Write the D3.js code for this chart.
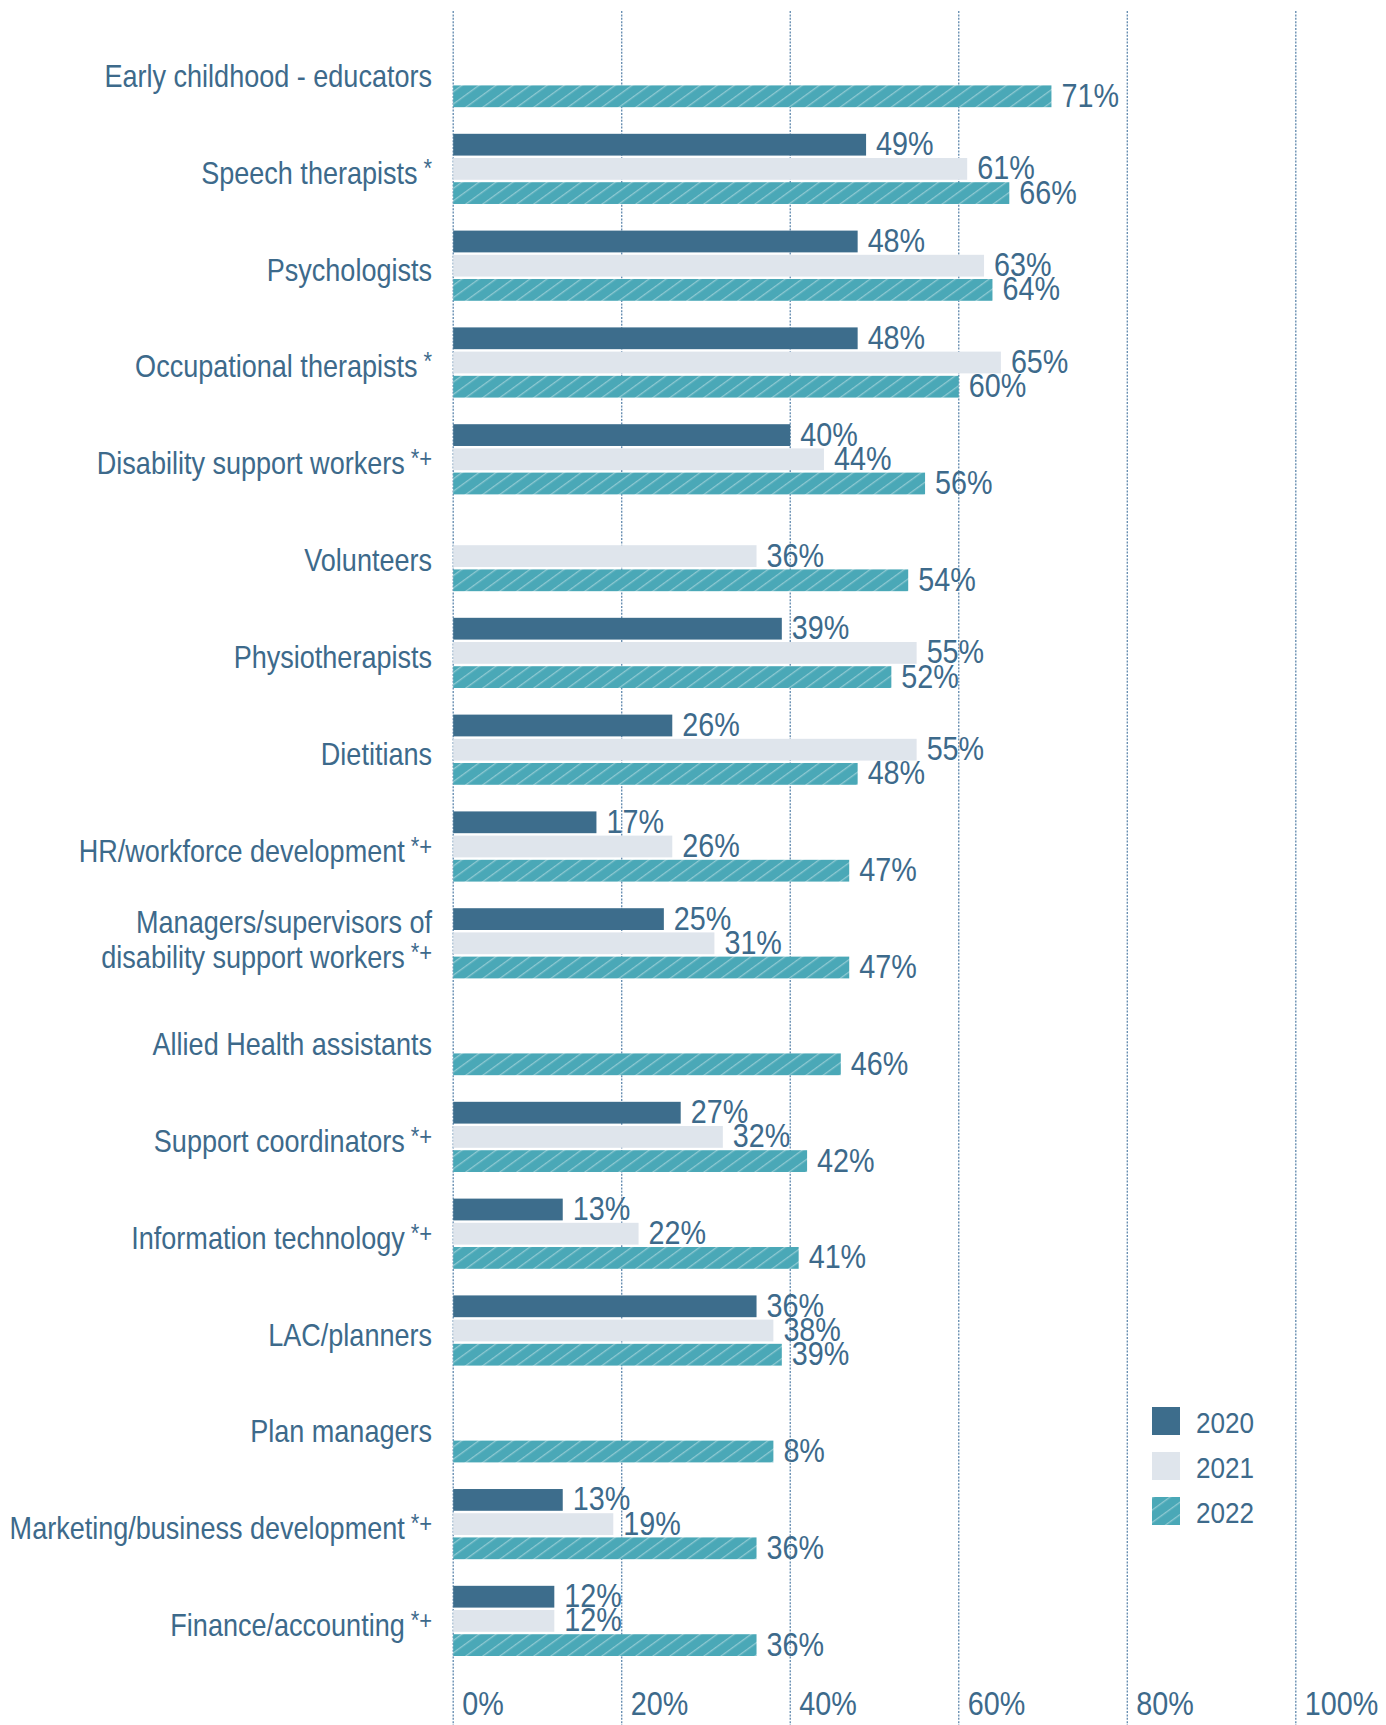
<!DOCTYPE html>
<html>
<head>
<meta charset="utf-8">
<script src="https://cdn.jsdelivr.net/npm/d3@7/dist/d3.min.js"></script>
<style>
  body { margin: 0; background: #fff; }
  text { font-family: "Liberation Sans", Arial, sans-serif; fill: #3d6a8b; }
</style>
</head>
<body>
<div id="chart"></div>
<script>
// roles, top to bottom; "\n" splits a label, mark is the superscript note
const roles = [
  "Early childhood - educators", "Speech therapists", "Psychologists",
  "Occupational therapists", "Disability support workers", "Volunteers",
  "Physiotherapists", "Dietitians", "HR/workforce development",
  "Managers/supervisors of\ndisability support workers", "Allied Health assistants",
  "Support coordinators", "Information technology", "LAC/planners",
  "Plan managers", "Marketing/business development", "Finance/accounting"
];
const marks = ["", "*", "", "*", "*+", "", "", "", "*+", "*+", "", "*+", "*+", "", "", "*+", "*+"];

const years = ["2020", "2021", "2022"];
const v2020 = [null, 49, 48, 48, 40, null, 39, 26, 17, 25, null, 27, 13, 36, null, 13, 12];
const v2021 = [null, 61, 63, 65, 44, 36, 55, 55, 26, 31, null, 32, 22, 38, null, 19, 12];
const v2022 = [71, 66, 64, 60, 56, 54, 52, 48, 47, 47, 46, 42, 41, 39, 38, 36, 36];
// printed label differs from bar length in the source for plan managers
const txt2022 = [null, null, null, null, null, null, null, null, null, null, null, null, null, null, "8%", null, null];

const xTicks = [0, 20, 40, 60, 80, 100];

const W = 1386, H = 1725;
const colors = { "2020": "#3d6d8c", "2021": "#dfe5ec", "2022": "#4aa8b7" };
const squeeze = 0.845; // narrow the sans face to look like the condensed original

let svg = d3.select("#chart").append("svg")
    .attr("width", W)
    .attr("height", H);

let defs = svg.append("defs");
let pat = defs.append("pattern")
    .attr("id", "hatch")
    .attr("patternUnits", "userSpaceOnUse")
    .attr("width", 12)
    .attr("height", 10)
    .attr("patternTransform", "rotate(-36)");
pat.append("rect").attr("width", 12).attr("height", 10).attr("fill", colors["2022"]);
pat.append("rect").attr("x", 0).attr("y", 0).attr("width", 12).attr("height", 1.3)
    .attr("fill", "rgba(255,255,255,0.38)");

let x = d3.scaleLinear().domain([0, 100]).range([453.2, 1295.8]);

let y = d3.scaleBand()
    .domain(d3.range(roles.length))
    .range([37, 37 + 16 * 96.8 + 70.2])
    .paddingInner(0.275);

let yy = d3.scaleBand()
    .domain(years)
    .range([0, y.bandwidth()])
    .paddingInner(0.1);

function narrow(sel, tx, ty) {
  return sel.attr("transform", "translate(" + tx + "," + ty + ") scale(" + squeeze + ",1)");
}

// grid
svg.append("g").selectAll("line").data(xTicks).enter().append("line")
    .attr("x1", d => x(d)).attr("x2", d => x(d))
    .attr("y1", 11).attr("y2", H)
    .attr("stroke", "#5f88ad")
    .attr("stroke-width", 1.3)
    .attr("stroke-dasharray", "2,1.4");

// bars
let rows = roles.map((r, i) => ({
  i: i,
  vals: [
    { year: "2020", v: v2020[i], t: null },
    { year: "2021", v: v2021[i], t: null },
    { year: "2022", v: v2022[i], t: txt2022[i] }
  ].filter(d => d.v !== null)
}));

let groups = svg.append("g").selectAll("g").data(rows).enter().append("g")
    .attr("transform", d => "translate(0," + y(d.i) + ")");

groups.selectAll("rect").data(d => d.vals).enter().append("rect")
    .attr("x", x(0))
    .attr("y", d => yy(d.year))
    .attr("width", d => x(d.v) - x(0))
    .attr("height", yy.bandwidth())
    .attr("fill", d => d.year === "2022" ? "url(#hatch)" : colors[d.year]);

groups.selectAll("text.val").data(d => d.vals).enter().append("text")
    .attr("class", "val")
    .each(function (d) {
      narrow(d3.select(this), x(d.v) + 10, yy(d.year) + yy.bandwidth() / 2 + 10.5);
    })
    .style("font-size", "34px")
    .text(d => d.t || (d.v + "%"));

// category labels
let labels = svg.append("g").selectAll("text").data(rows).enter().append("text")
    .attr("text-anchor", "end")
    .style("font-size", "32px")
    .each(function (d) { narrow(d3.select(this), 432, y(d.i) + y.bandwidth() / 2); });

labels.each(function (d) {
  let parts = roles[d.i].split("\n");
  let n = parts.length;
  let t = d3.select(this);
  parts.forEach((p, k) => {
    let yPos = (n === 1 ? 15 : 7 + (k - (n - 1) / 2) * 35);
    t.append("tspan").attr("x", 0).attr("y", yPos).text(p);
    if (k === n - 1 && marks[d.i]) {
      t.append("tspan").attr("dx", 7).attr("dy", -7)
        .style("font-size", "26px").text(marks[d.i]);
    }
  });
});

// x tick labels
svg.append("g").selectAll("text").data(xTicks).enter().append("text")
    .each(function (d) { narrow(d3.select(this), x(d) + 9, 1715); })
    .style("font-size", "34px")
    .text(d => d + "%");

// legend
let legend = svg.append("g");
years.forEach((yr, i) => {
  let g = legend.append("g").attr("transform", "translate(1152," + (1407 + i * 45) + ")");
  g.append("rect")
      .attr("width", 28).attr("height", 28)
      .attr("fill", yr === "2022" ? "url(#hatch)" : colors[yr]);
  g.append("text")
      .attr("transform", "translate(44,26) scale(0.9,1)")
      .style("font-size", "29px")
      .text(yr);
});
</script>
</body>
</html>
